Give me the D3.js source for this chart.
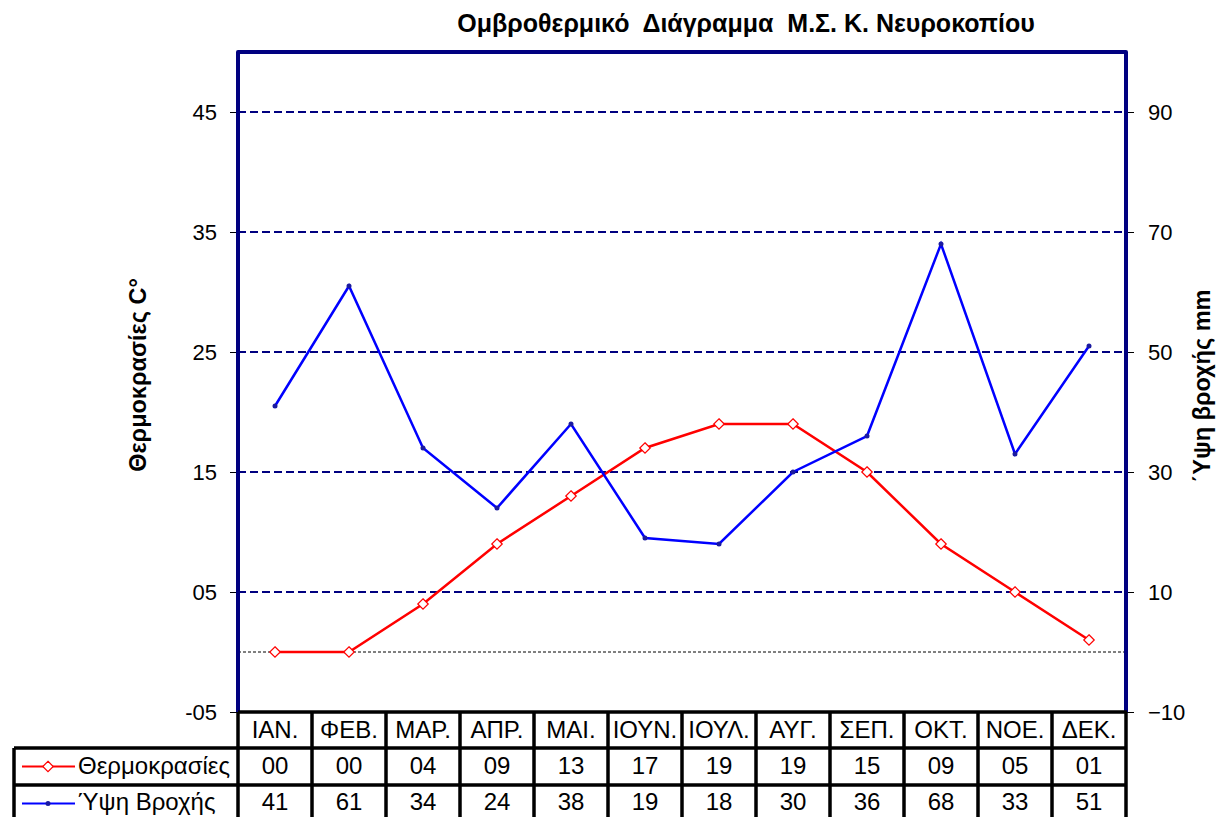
<!DOCTYPE html>
<html><head><meta charset="utf-8">
<script src="https://cdnjs.cloudflare.com/ajax/libs/d3/7.8.5/d3.min.js"></script>
<style>body{margin:0;background:#fff;} svg{display:block;font-family:"Liberation Sans",Arial,sans-serif;}</style>
</head><body>
<svg id="c" width="1223" height="817"></svg>
<script>
const months = ["ΙΑΝ.","ΦΕΒ.","ΜΑΡ.","ΑΠΡ.","ΜΑΙ.","ΙΟΥΝ.","ΙΟΥΛ.","ΑΥΓ.","ΣΕΠ.","ΟΚΤ.","ΝΟΕ.","ΔΕΚ."];
const temperature = [0,0,4,9,13,17,19,19,15,9,5,1];
const rainfall = [41,61,34,24,38,19,18,30,36,68,33,51];
const leftTicks = [-5,5,15,25,35,45];
const rightTicks = [-10,10,30,50,70,90];
const seriesNames = ["Θερμοκρασίες","Ύψη Βροχής"];
const titleText = "Ομβροθερμικό  Διάγραμμα  Μ.Σ. Κ. Νευροκοπίου";
const leftTitle = "Θερμοκρασίες C°";
const rightTitle = "΄Υψη βροχής mm";

const svg = d3.select("#c");
const L = 238, R = 1126, T = 52, B = 712;
const x = d3.scaleBand().domain(months).range([L, R]);
const yL = d3.scaleLinear().domain([-5, 50]).range([B, T]);
const yR = d3.scaleLinear().domain([-10, 100]).range([B, T]);
const fmt2 = v => (v < 0 ? "-" : "") + String(Math.abs(v)).padStart(2, "0");

// title
svg.append("text").attr("x", 746).attr("y", 32).attr("text-anchor", "middle")
  .attr("font-size", 25).attr("font-weight", "bold").style("white-space","pre").text(titleText);

// gridlines
svg.append("g").selectAll("line").data(leftTicks.filter(d => d > -5)).join("line")
  .attr("x1", L).attr("x2", R).attr("y1", d => yL(d)).attr("y2", d => yL(d))
  .attr("stroke", "#000080").attr("stroke-width", 2).attr("stroke-dasharray", "8,4");
// zero line
svg.append("line").attr("x1", L).attr("x2", R).attr("y1", yL(0)).attr("y2", yL(0))
  .attr("stroke", "#000").attr("stroke-width", 1).attr("stroke-dasharray", "3,2");

// axes
const axL = svg.append("g").attr("transform", `translate(${L},0)`)
  .call(d3.axisLeft(yL).tickValues(leftTicks).tickFormat(fmt2).tickSize(8).tickPadding(13));
const axR = svg.append("g").attr("transform", `translate(${R},0)`)
  .call(d3.axisRight(yR).tickValues(rightTicks).tickSize(8).tickPadding(14));
[axL, axR].forEach(a => {
  a.select(".domain").remove();
  a.selectAll(".tick line").attr("stroke", "#000").attr("stroke-width", 1);
  a.selectAll(".tick text").attr("font-size", 22).attr("fill", "#000")
    .attr("font-family", '"Liberation Sans",Arial,sans-serif');
});

// plot frame (navy)
svg.append("path").attr("d", `M${L},${B} V${T} H${R} V${B}`).attr("fill", "none")
  .attr("stroke", "#000080").attr("stroke-width", 4).attr("stroke-linejoin", "round");

// axis titles
svg.append("text").attr("transform", `translate(146,${375}) rotate(-90)`).attr("text-anchor", "middle")
  .attr("font-size", 23.5).attr("font-weight", "bold").text(leftTitle);
svg.append("text").attr("transform", `translate(1210,${386}) rotate(-90)`).attr("text-anchor", "middle")
  .attr("font-size", 23.5).attr("font-weight", "bold").text(rightTitle);

// lines
const cx = d => x(d) + x.bandwidth() / 2;
const lineT = d3.line().x((d, i) => cx(months[i])).y(d => yL(d));
const lineR = d3.line().x((d, i) => cx(months[i])).y(d => yR(d));
svg.append("path").datum(temperature).attr("d", lineT).attr("fill", "none")
  .attr("stroke", "#ff0000").attr("stroke-width", 2.5);
svg.append("path").datum(rainfall).attr("d", lineR).attr("fill", "none")
  .attr("stroke", "#0000ff").attr("stroke-width", 2.5);
const diamond = d3.symbol().type(d3.symbolDiamond2).size(70);
svg.append("g").selectAll("path").data(temperature).join("path")
  .attr("transform", (d, i) => `translate(${cx(months[i])},${yL(d)})`)
  .attr("d", diamond).attr("fill", "#fff").attr("stroke", "#ff0000").attr("stroke-width", 1.2);
svg.append("g").selectAll("circle").data(rainfall).join("circle")
  .attr("cx", (d, i) => cx(months[i])).attr("cy", d => yR(d)).attr("r", 2.5).attr("fill", "#1a1aa0");

// data table
const rowY = [712, 748, 785, 822];
const legendL = 14;
const tbl = svg.append("g").attr("font-size", 24);
tbl.selectAll("text.h").data(months).join("text").attr("class", "h")
  .attr("x", d => cx(d)).attr("y", 738).attr("text-anchor", "middle").text(d => d);
tbl.selectAll("text.t").data(temperature).join("text").attr("class", "t")
  .attr("x", (d, i) => cx(months[i])).attr("y", 774).attr("text-anchor", "middle").text(d => fmt2(d));
tbl.selectAll("text.r").data(rainfall).join("text").attr("class", "r")
  .attr("x", (d, i) => cx(months[i])).attr("y", 810).attr("text-anchor", "middle").text(d => fmt2(d));
// legend cells
const legCol = ["#ff0000", "#0000ff"];
const legBase = [774, 810];
seriesNames.forEach((n, k) => {
  const yy = (rowY[k + 1] + rowY[k + 2]) / 2;
  tbl.append("line").attr("x1", 22).attr("x2", 75).attr("y1", yy).attr("y2", yy)
    .attr("stroke", legCol[k]).attr("stroke-width", 2.2);
  if (k === 0) tbl.append("path").attr("transform", `translate(48,${yy})`).attr("d", diamond)
    .attr("fill", "#fff").attr("stroke", "#ff0000").attr("stroke-width", 1.2);
  else tbl.append("circle").attr("cx", 48).attr("cy", yy).attr("r", 2.5).attr("fill", "#1a1aa0");
  tbl.append("text").attr("x", 78).attr("y", legBase[k]).text(n);
});
// grid lines of table
const tl = tbl.append("g").attr("stroke", "#000").attr("stroke-width", 3.5).attr("fill", "none");
tl.append("line").attr("x1", L).attr("x2", R + 1).attr("y1", rowY[0]).attr("y2", rowY[0]);
[rowY[1], rowY[2]].forEach(y => tl.append("line").attr("x1", legendL).attr("x2", R + 1).attr("y1", y).attr("y2", y));
tl.append("line").attr("x1", legendL).attr("x2", legendL).attr("y1", rowY[1]).attr("y2", rowY[3]);
tl.selectAll("line.v").data(months.concat(["end"])).join("line").attr("class", "v")
  .attr("x1", (d, i) => i < months.length ? x(d) : R).attr("x2", (d, i) => i < months.length ? x(d) : R)
  .attr("y1", rowY[0]).attr("y2", rowY[3]);
</script>
</body></html>
